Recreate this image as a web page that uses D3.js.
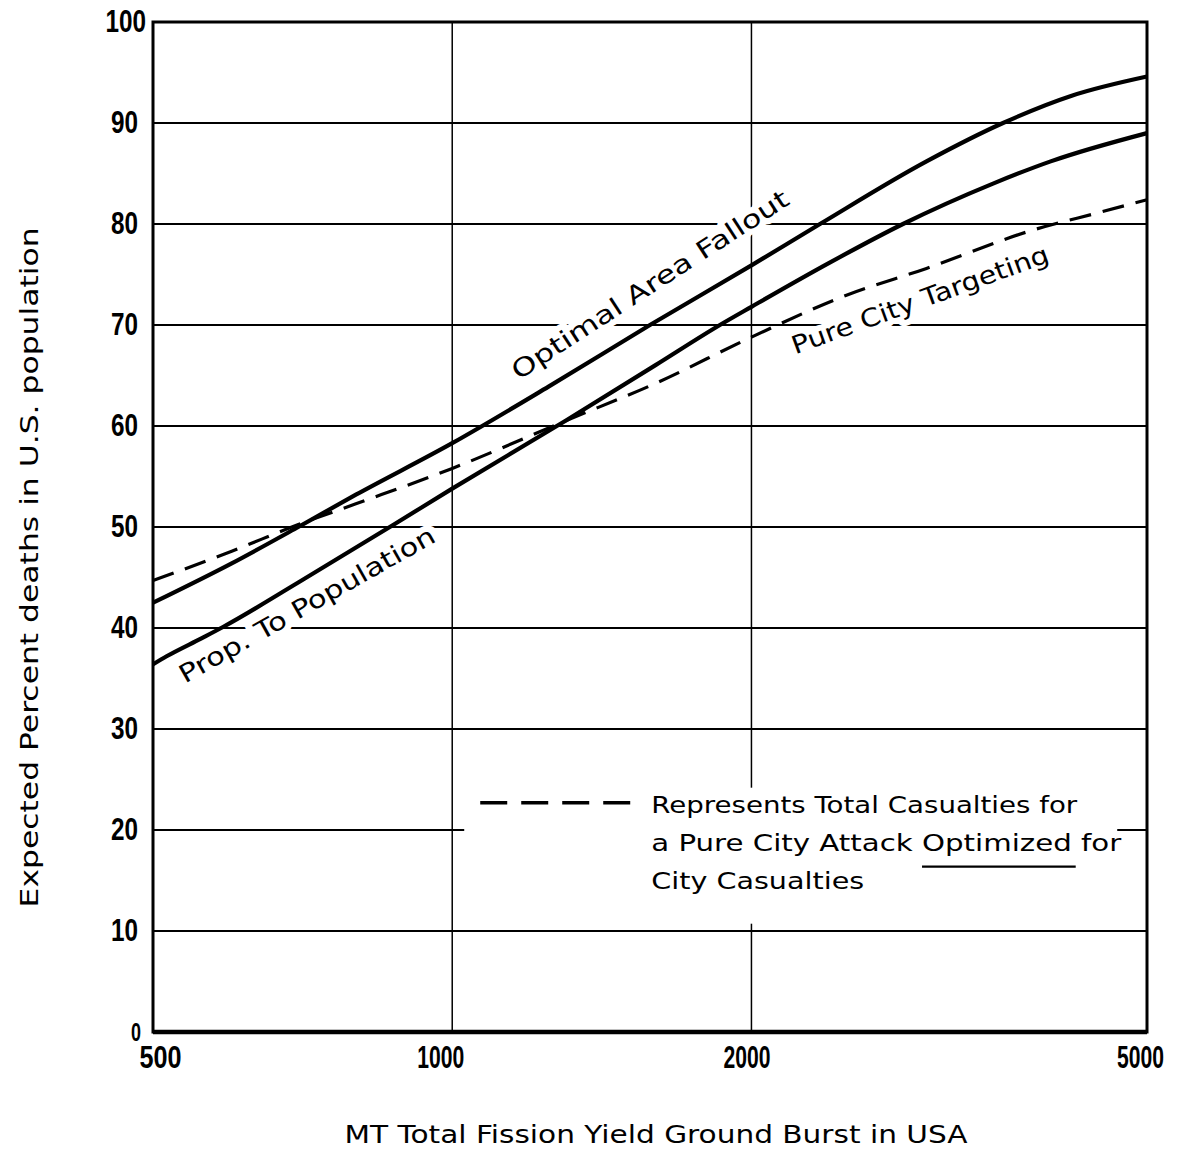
<!DOCTYPE html>
<html>
<head>
<meta charset="utf-8">
<script src="https://cdn.jsdelivr.net/npm/d3@7"></script>
<style>
  body { margin: 0; background: #fff; }
  text { fill: #000; }
</style>
</head>
<body>
<div id="chart"></div>
<script>
// tick values
const xTicks = [500, 1000, 2000, 5000];
const yTicks = [0, 10, 20, 30, 40, 50, 60, 70, 80, 90, 100];

// Optimal Area Fallout (upper solid)
const fallX = [500, 600, 700, 800, 1000, 1250, 1581, 2000, 2344, 3000, 3582, 4200, 5000];
const fallY = [42.5, 46.4, 50, 53.2, 58.3, 63.9, 70, 75.9, 80, 86.2, 90, 92.7, 94.6];

// Prop. To Population (lower solid)
const popX = [500, 516, 560, 588, 700, 872, 1000, 1299, 1600, 1859, 2000, 2400, 2841, 3500, 4000, 5000];
const popY = [36.4, 37.2, 39, 40.1, 44.5, 50.2, 53.8, 60.5, 66, 70, 71.8, 76.2, 80, 84, 86.2, 89];

// Pure City Targeting (dashed)
const dashX = [500, 600, 698, 800, 1000, 1299, 1600, 2000, 2500, 3000, 3838, 4500, 5000];
const dashY = [44.7, 47.6, 50.2, 52.3, 55.8, 60.5, 64.2, 68.8, 73, 75.6, 79.4, 81.2, 82.4];

// curve labels: anchor in data units, angle in degrees, text length in px
const labelText = ['Optimal Area Fallout', 'Prop. To Population', 'Pure City Targeting'];
const labelX = [1581, 714, 2955];
const labelY = [74, 42.3, 72.5];
const labelAngle = [-33, -29.5, -20];
const labelLen = [325, 290, 272];

const legendLines = ['Represents Total Casualties for', 'a Pure City Attack Optimized for', 'City Casualties'];

const W = 1187, H = 1153;
const margin = {top: 22, left: 153, right: 40, bottom: 121};
const w = W - margin.left - margin.right;
const h = H - margin.top - margin.bottom;

const svg = d3.select('#chart').append('svg')
  .attr('width', W).attr('height', H);
const g = svg.append('g').attr('transform', `translate(${margin.left},${margin.top})`);

const x = d3.scaleLog().domain([500, 5000]).range([0, w]);
const y = d3.scaleLinear().domain([0, 100]).range([h, 0]);

const textFont = '"DejaVu Sans", "Noto Sans", sans-serif';
const tickFont = '"Liberation Sans", Arial, sans-serif';

// grid
g.append('g').selectAll('line.hg')
  .data(yTicks.filter(d => d > 0 && d < 100))
  .join('line')
  .attr('x1', 0).attr('x2', w)
  .attr('y1', d => y(d)).attr('y2', d => y(d))
  .attr('stroke', '#000').attr('stroke-width', 2.2);

g.append('g').selectAll('line.vg')
  .data(xTicks.filter(d => d > 500 && d < 5000))
  .join('line')
  .attr('x1', d => x(d)).attr('x2', d => x(d))
  .attr('y1', 0).attr('y2', h)
  .attr('stroke', '#000').attr('stroke-width', 1.5);

// legend block (white under it breaks the grid, as in the original)
const leg = g.append('g').attr('transform', `translate(${x(1000) + 12},${y(23)})`);
leg.append('rect')
  .attr('x', 0).attr('y', -12).attr('width', 653).attr('height', 136)
  .attr('fill', '#fff');
leg.append('line')
  .attr('x1', 16).attr('x2', 168).attr('y1', 3).attr('y2', 3)
  .attr('stroke', '#000').attr('stroke-width', 3.5)
  .attr('stroke-dasharray', '27,14');
const lens = [426, 470, 213];
const legText = leg.selectAll('text.leg')
  .data(legendLines)
  .join('text')
  .attr('x', 187)
  .attr('y', (d, i) => 13 + i * 38)
  .attr('font-family', textFont)
  .attr('font-size', 23)
  .attr('textLength', (d, i) => lens[i])
  .attr('lengthAdjust', 'spacingAndGlyphs')
  .text(d => d);
// underline "Optimized"
const t2 = legText.nodes()[1];
const s = legendLines[1].indexOf('Optimized');
const ux0 = t2.getStartPositionOfChar(s).x;
const ux1 = t2.getEndPositionOfChar(s + 8).x;
leg.append('line')
  .attr('x1', ux0).attr('x2', ux1 + 4)
  .attr('y1', 13 + 38 + 16).attr('y2', 13 + 38 + 16)
  .attr('stroke', '#000').attr('stroke-width', 2.2);

// curve labels with white halo
g.append('g').selectAll('text.lab')
  .data(labelText)
  .join('text')
  .attr('transform', (d, i) => `translate(${x(labelX[i])},${y(labelY[i])}) rotate(${labelAngle[i]})`)
  .attr('text-anchor', 'middle')
  .attr('dy', '0.35em')
  .attr('font-family', textFont)
  .attr('font-size', 25)
  .attr('textLength', (d, i) => labelLen[i])
  .attr('lengthAdjust', 'spacingAndGlyphs')
  .attr('stroke', '#fff').attr('stroke-width', 12)
  .attr('paint-order', 'stroke')
  .attr('stroke-linejoin', 'round')
  .text(d => d);

// curves
const line = d3.line()
  .x(d => x(d[0])).y(d => y(d[1]))
  .curve(d3.curveMonotoneX);

g.append('path')
  .datum(d3.zip(dashX, dashY))
  .attr('d', line)
  .attr('fill', 'none').attr('stroke', '#000')
  .attr('stroke-width', 3.2)
  .attr('stroke-dasharray', '22,12');

g.append('path')
  .datum(d3.zip(popX, popY))
  .attr('d', line)
  .attr('fill', 'none').attr('stroke', '#000')
  .attr('stroke-width', 4.2);

g.append('path')
  .datum(d3.zip(fallX, fallY))
  .attr('d', line)
  .attr('fill', 'none').attr('stroke', '#000')
  .attr('stroke-width', 4.2);

// frame
g.append('rect')
  .attr('x', 0).attr('y', 0).attr('width', w).attr('height', h)
  .attr('fill', 'none').attr('stroke', '#000').attr('stroke-width', 3);
g.append('line')
  .attr('x1', 0).attr('x2', w).attr('y1', h).attr('y2', h)
  .attr('stroke', '#000').attr('stroke-width', 4.5);

// axes
const xShift = {500: 7, 1000: -12, 2000: -5, 5000: -7};
const xAxis = g.append('g')
  .attr('transform', `translate(0,${h})`)
  .call(d3.axisBottom(x).tickValues(xTicks).tickSize(0).tickPadding(13).tickFormat(d3.format('d')));
xAxis.select('.domain').remove();
xAxis.selectAll('text')
  .attr('dx', d => xShift[d])
  .attr('font-family', tickFont).attr('font-weight', 'bold')
  .attr('font-size', 32).attr('fill', '#000')
  .attr('textLength', d => d < 1000 ? 42 : 47)
  .attr('lengthAdjust', 'spacingAndGlyphs');

const yAxis = g.append('g')
  .call(d3.axisLeft(y).tickValues(yTicks).tickSize(0).tickPadding(15).tickFormat(d3.format('d')));
yAxis.select('.domain').remove();
yAxis.selectAll('text')
  .attr('dx', d => d === 100 ? 8 : d === 0 ? 3 : 0)
  .attr('font-family', tickFont).attr('font-weight', 'bold')
  .attr('font-size', d => d === 0 ? 25 : 31).attr('fill', '#000')
  .attr('textLength', d => String(d).length * (d === 0 ? 10 : 13.5))
  .attr('lengthAdjust', 'spacingAndGlyphs');

// axis titles
svg.append('text')
  .attr('x', 656).attr('y', 1143)
  .attr('text-anchor', 'middle')
  .attr('font-family', textFont).attr('font-size', 24)
  .attr('textLength', 623).attr('lengthAdjust', 'spacingAndGlyphs')
  .text('MT Total Fission Yield Ground Burst in USA');

svg.append('text')
  .attr('transform', `translate(38,${margin.top + y(46)}) rotate(-90)`)
  .attr('text-anchor', 'middle')
  .attr('font-family', textFont).attr('font-size', 24)
  .attr('textLength', 680).attr('lengthAdjust', 'spacingAndGlyphs')
  .text('Expected Percent deaths in U.S. population');
</script>
</body>
</html>
